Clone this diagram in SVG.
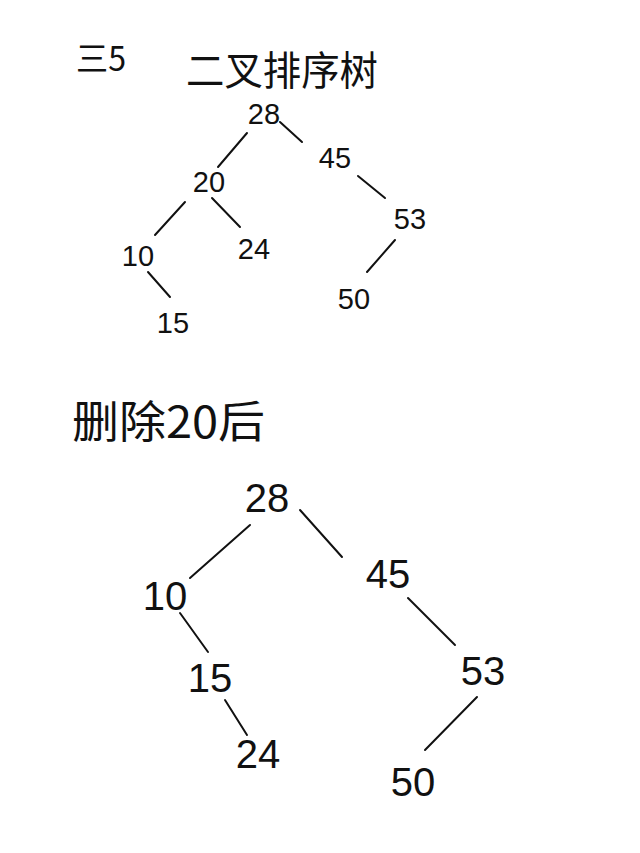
<svg xmlns="http://www.w3.org/2000/svg" width="640" height="853" viewBox="0 0 640 853">
<style>
.bg{fill:#fff}
.t{font-family:"Liberation Sans","Noto Sans CJK SC",sans-serif;fill:#111;text-anchor:middle}
.h{font-family:"Noto Sans CJK SC","Liberation Sans",sans-serif;fill:#111;font-weight:400}
.s{font-size:29px}
.b{font-size:40px}
.e{stroke:#111;stroke-width:2;stroke-linecap:round;fill:none}
</style>
<rect class="bg" x="0" y="0" width="640" height="853"/>
<g id="title1">
<text class="h" x="76" y="71" font-size="34" textLength="50" lengthAdjust="spacingAndGlyphs">三5</text>
<text class="h" x="186" y="85" font-size="40" textLength="192" lengthAdjust="spacingAndGlyphs">二叉排序树</text>
</g>
<g id="title2">
<text class="h" x="72" y="438" font-size="44" textLength="193" lengthAdjust="spacingAndGlyphs">删除20后</text>
</g>
<g id="connectors1">
<line class="e" x1="247" y1="133" x2="218" y2="167"/>
<line class="e" x1="280" y1="122" x2="302" y2="142"/>
<line class="e" x1="358" y1="176" x2="385" y2="198"/>
<line class="e" x1="185" y1="202" x2="155" y2="235"/>
<line class="e" x1="212" y1="198" x2="240" y2="227"/>
<line class="e" x1="148" y1="272" x2="170" y2="297"/>
<line class="e" x1="395" y1="240" x2="367" y2="272"/>
</g>
<g id="t1-28"><text class="t s" x="264" y="124">28</text></g>
<g id="t1-45"><text class="t s" x="335" y="168">45</text></g>
<g id="t1-20"><text class="t s" x="209" y="192">20</text></g>
<g id="t1-53"><text class="t s" x="410" y="229">53</text></g>
<g id="t1-10"><text class="t s" x="138" y="266">10</text></g>
<g id="t1-24"><text class="t s" x="254" y="259">24</text></g>
<g id="t1-15"><text class="t s" x="173" y="333">15</text></g>
<g id="t1-50"><text class="t s" x="354" y="309">50</text></g>
<g id="connectors2">
<line class="e" x1="250" y1="525" x2="190" y2="578"/>
<line class="e" x1="300" y1="510" x2="342" y2="557"/>
<line class="e" x1="408" y1="598" x2="455" y2="645"/>
<line class="e" x1="180" y1="613" x2="208" y2="652"/>
<line class="e" x1="225" y1="700" x2="247" y2="735"/>
<line class="e" x1="477" y1="697" x2="425" y2="750"/>
</g>
<g id="t2-28"><text class="t b" x="267" y="512">28</text></g>
<g id="t2-45"><text class="t b" x="388" y="588">45</text></g>
<g id="t2-10"><text class="t b" x="165" y="610">10</text></g>
<g id="t2-53"><text class="t b" x="483" y="685">53</text></g>
<g id="t2-15"><text class="t b" x="210" y="692">15</text></g>
<g id="t2-24"><text class="t b" x="258" y="768">24</text></g>
<g id="t2-50"><text class="t b" x="413" y="796">50</text></g>
</svg>
